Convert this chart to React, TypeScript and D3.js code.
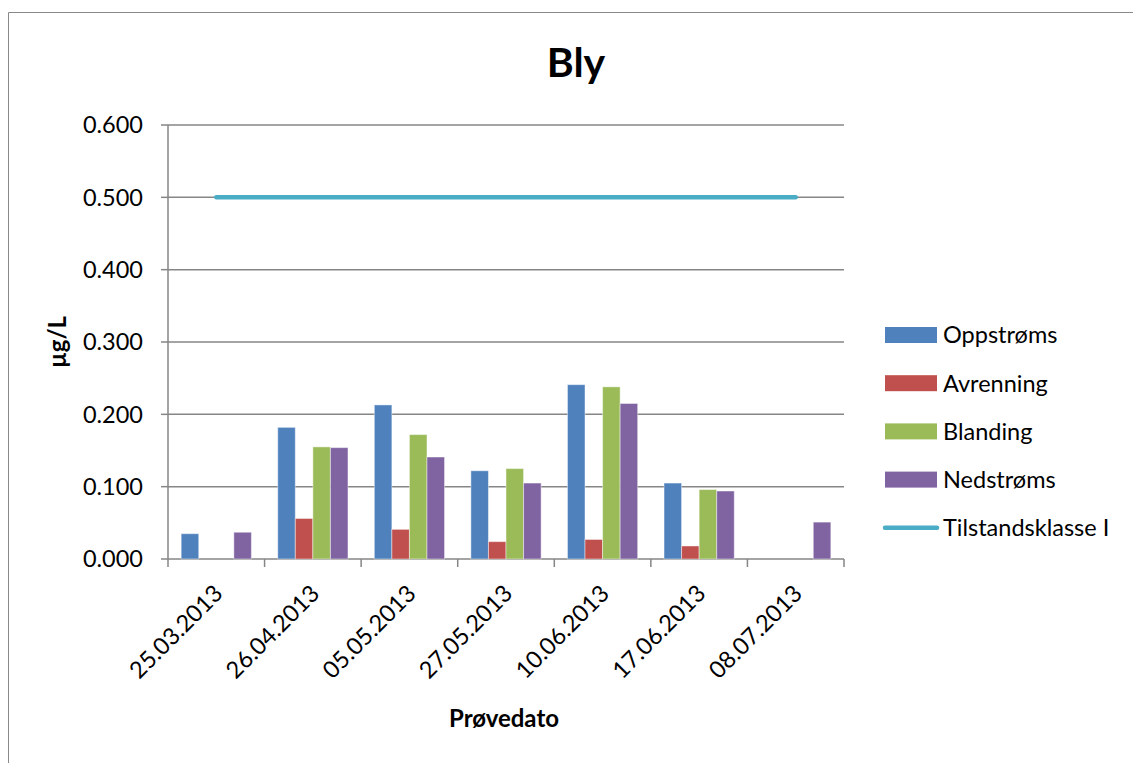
import React from "react";
import * as d3 from "d3";

// Sampling dates and measured lead concentrations (µg/L)
const dates = [
  "25.03.2013",
  "26.04.2013",
  "05.05.2013",
  "27.05.2013",
  "10.06.2013",
  "17.06.2013",
  "08.07.2013",
];
const oppstroms: (number | null)[] = [0.035, 0.182, 0.213, 0.122, 0.241, 0.105, null];
const avrenning: (number | null)[] = [null, 0.056, 0.041, 0.024, 0.027, 0.018, null];
const blanding: (number | null)[] = [null, 0.155, 0.172, 0.125, 0.238, 0.096, null];
const nedstroms: (number | null)[] = [0.037, 0.154, 0.141, 0.105, 0.215, 0.094, 0.051];
const tilstandsklasse = 0.5;
const yTicks = [0, 0.1, 0.2, 0.3, 0.4, 0.5, 0.6];

const seriesNames = ["Oppstrøms", "Avrenning", "Blanding", "Nedstrøms"];
const seriesValues = [oppstroms, avrenning, blanding, nedstroms];
const seriesColors = ["#4F81BD", "#C0504D", "#9BBB59", "#8064A2"];
const lineName = "Tilstandsklasse I";
const lineColor = "#4BACC6";

const W = 1133;
const H = 763;
const plot = { left: 168, right: 844, top: 125, bottom: 559 };
const font = "Lato, 'Liberation Sans', sans-serif";

export default function App() {
  const x = d3.scaleBand<string>().domain(dates).range([plot.left, plot.right]).padding(0);
  const xs = d3
    .scaleBand<string>()
    .domain(seriesNames)
    .range([0, x.bandwidth()])
    .paddingInner(0)
    .paddingOuter(0.75);
  const y = d3.scaleLinear().domain([0, 0.6]).range([plot.bottom, plot.top]);

  const catEdges = dates.map((d) => x(d)!).concat([plot.right]);
  const line = d3
    .line<string>()
    .x((d) => x(d)! + x.bandwidth() / 2)
    .y(() => y(tilstandsklasse));

  const legendX = 885;
  const legendY0 = 335;
  const legendStep = 48.2;

  return (
    <svg
      width={W}
      height={H}
      style={{ position: "absolute", left: 0, top: 0, background: "#fff" }}
      fontFamily={font}
    >
      <rect x={0} y={0} width={W} height={H} fill="#fff" />
      {/* chart frame */}
      <path d={`M8.5,${H} V12.5 H${W}`} fill="none" stroke="#898989" strokeWidth={1} />

      {/* title */}
      <text x={576} y={77} textAnchor="middle" fontSize={41} fontWeight="bold" fill="#000">
        Bly
      </text>

      {/* gridlines */}
      {yTicks.map((t) => (
        <line
          key={t}
          x1={plot.left}
          x2={plot.right}
          y1={y(t)}
          y2={y(t)}
          stroke="#868686"
          strokeWidth={1.5}
        />
      ))}
      {/* y axis */}
      <line x1={plot.left} x2={plot.left} y1={plot.top} y2={plot.bottom} stroke="#868686" strokeWidth={1.5} />
      {yTicks.map((t) => (
        <g key={"yt" + t}>
          <line x1={161} x2={plot.left} y1={y(t)} y2={y(t)} stroke="#868686" strokeWidth={1.5} />
          <text
            x={143}
            y={y(t)}
            dy="0.36em"
            textAnchor="end"
            fontSize={23.5}
            fill="#000"
          >
            {d3.format(".3f")(t)}
          </text>
        </g>
      ))}
      {/* x ticks */}
      {catEdges.map((cx, i) => (
        <line key={"xt" + i} x1={cx} x2={cx} y1={plot.bottom} y2={567} stroke="#868686" strokeWidth={1.5} />
      ))}

      {/* bars */}
      {seriesValues.map((vals, si) =>
        vals.map((v, di) =>
          v == null ? null : (
            <rect
              key={si + "-" + di}
              x={x(dates[di])! + xs(seriesNames[si])!}
              y={y(v)}
              width={xs.bandwidth()}
              height={y(0) - y(v)}
              fill={seriesColors[si]}
              stroke="#ffffff"
              strokeOpacity={0.45}
              strokeWidth={1}
            />
          )
        )
      )}

      {/* threshold line */}
      <path
        d={line(dates) || ""}
        fill="none"
        stroke={lineColor}
        strokeWidth={4.5}
        strokeLinecap="round"
      />

      {/* x tick labels */}
      {dates.map((d) => {
        const cx = x(d)! + x.bandwidth() / 2 + 2;
        const cy = 589;
        return (
          <text
            key={"xl" + d}
            x={cx}
            y={cy}
            dy="0.36em"
            textAnchor="end"
            fontSize={23.5}
            fill="#000"
            transform={`rotate(-45 ${cx} ${cy})`}
          >
            {d}
          </text>
        );
      })}

      {/* axis titles */}
      <text x={504} y={727} textAnchor="middle" fontSize={24} fontWeight="bold" fill="#000">
        Prøvedato
      </text>
      <text
        x={0}
        y={0}
        textAnchor="middle"
        fontSize={24}
        fontWeight="bold"
        fill="#000"
        transform={`translate(66 342) rotate(-90)`}
      >
        µg/L
      </text>

      {/* legend */}
      {seriesNames.map((n, i) => (
        <g key={"lg" + n}>
          <rect x={legendX} y={legendY0 + i * legendStep - 8} width={52} height={16} fill={seriesColors[i]} />
          <text x={943} y={legendY0 + i * legendStep} dy="0.36em" fontSize={23.5} fill="#000">
            {n}
          </text>
        </g>
      ))}
      <line
        x1={legendX}
        x2={legendX + 52}
        y1={legendY0 + 4 * legendStep - 8 + 8}
        y2={legendY0 + 4 * legendStep}
        stroke={lineColor}
        strokeWidth={4.5}
        strokeLinecap="round"
      />
      <text x={943} y={legendY0 + 4 * legendStep} dy="0.36em" fontSize={23.5} fill="#000">
        {lineName}
      </text>
    </svg>
  );
}
